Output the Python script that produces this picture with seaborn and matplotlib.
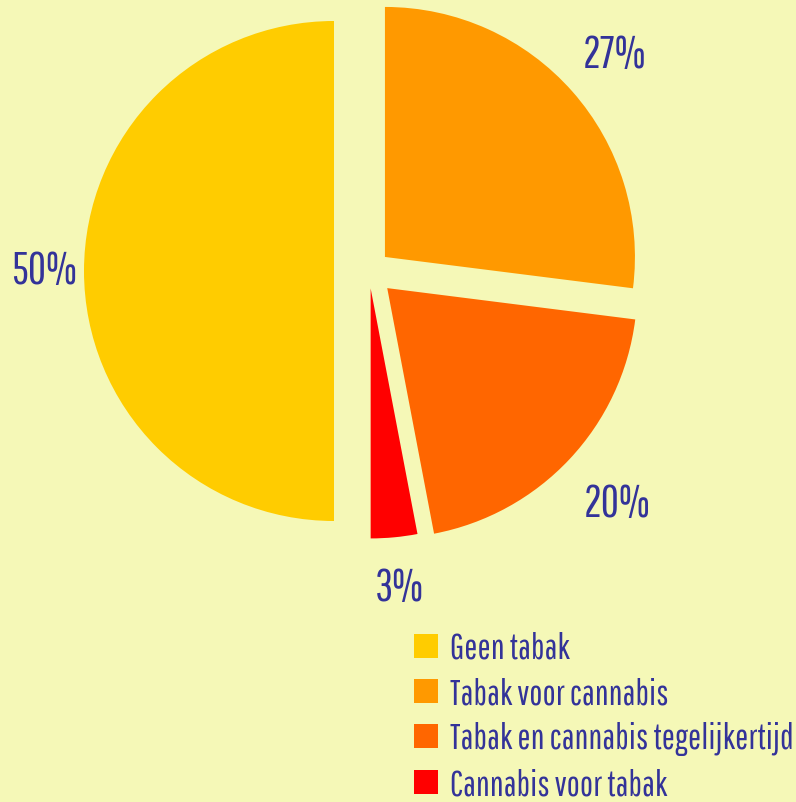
import matplotlib
matplotlib.use('Agg')
import matplotlib.pyplot as plt
import numpy as np
import seaborn as sns

# slices in drawing order (clockwise from 12 o'clock)
labels = ['Tabak voor cannabis', 'Tabak en cannabis tegelijkertijd',
          'Cannabis voor tabak', 'Geen tabak']
values = [27, 20, 3, 50]
colors = ['#FF9900', '#FF6600', '#FF0000', '#FFCC00']
explode = [0.085, 0.1, 0.07, 0.14]
label_dist = [1.31, 1.36, 1.27, 1.30]
legend_order = ['Geen tabak', 'Tabak voor cannabis',
                'Tabak en cannabis tegelijkertijd', 'Cannabis voor tabak']

bg = '#F5F8B7'
txt = '#333399'

sns.set_style('white')
plt.rcParams['font.family'] = ['Pathway Gothic One', 'Oswald', 'Barlow Condensed', 'DejaVu Sans']

fig = plt.figure(figsize=(7.96, 8.03), dpi=100, facecolor=bg)
ax = fig.add_axes([0, 0, 1, 1])
ax.set_facecolor(bg)

wedges, _, autotexts = ax.pie(values, colors=sns.color_palette(colors), explode=explode,
                              startangle=90, counterclock=False, radius=1,
                              autopct='%d%%', pctdistance=1.2,
                              wedgeprops={'linewidth': 0},
                              textprops={'color': txt, 'fontsize': 32})

# put the percentages along each slice's middle angle, measured from the true centre
for w, t, d in zip(wedges, autotexts, label_dist):
    a = np.deg2rad((w.theta1 + w.theta2) / 2)
    t.set_position((d * np.cos(a), d * np.sin(a)))

# 250 px per unit, pie centre at (369, 272) px
ax.set_xlim(-369 / 250, (796 - 369) / 250)
ax.set_ylim(-(803 - 272) / 250, 272 / 250)
ax.axis('off')

handles = [wedges[labels.index(n)] for n in legend_order]
leg = ax.legend(handles, legend_order, loc='upper left', bbox_to_anchor=(0.52, 0.213),
                frameon=False, fontsize=25, handlelength=0.69, handleheight=0.69,
                handletextpad=0.35, labelspacing=0.35, borderpad=0, borderaxespad=0)
for t in leg.get_texts():
    t.set_color(txt)

fig.savefig('out.png', dpi=100, facecolor=bg)
